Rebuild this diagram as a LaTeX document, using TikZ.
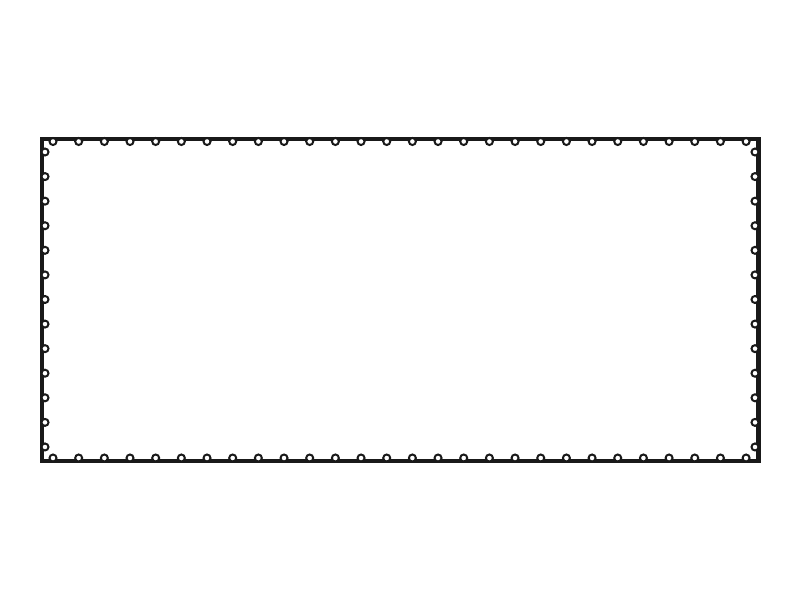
\documentclass[tikz,border=0pt]{standalone}
\begin{document}
\begin{tikzpicture}[x=1pt,y=-1pt,
  frame/.style={line width=4.4pt,draw=black!90,line join=miter},
  grommet/.style={draw=black!90,fill=white,line width=2pt}]
\useasboundingbox (0,0) rectangle (800,600);
\draw[frame] (42,139) rectangle (758.5,461);
\foreach \i in {0,...,27}{
  \pgfmathsetmacro{\gx}{53+\i*25.67}
  \draw[grommet] (\gx,141.5) circle (3.5);
  \draw[grommet] (\gx,458) circle (3.5);
}
\foreach \j in {0,...,12}{
  \pgfmathsetmacro{\gy}{152+\j*24.58}
  \draw[grommet] (45,\gy) circle (3.5);
  \draw[grommet] (755,\gy) circle (3.5);
}
\end{tikzpicture}
\end{document}
